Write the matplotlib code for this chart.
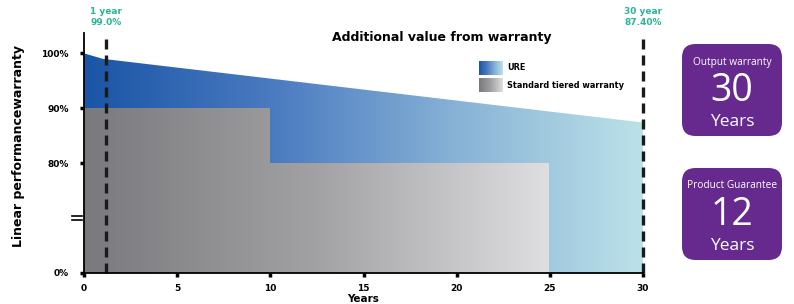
import numpy as np
import matplotlib.pyplot as plt
from matplotlib.colors import LinearSegmentedColormap
from matplotlib.patches import FancyBboxPatch

# data
years = [0, 1, 30]
ure = [100, 99.0, 87.4]
std_years = [0, 10, 10, 25, 25]
std_vals = [90, 90, 80, 80, 0]
yticks = [0, 80, 90, 100]
ytick_labels = ['0%', '80%', '90%', '100%']
xticks = [0, 5, 10, 15, 20, 25, 30]
marks = [1.2, 30]
mark_labels = ['1 year\n99.0%', '30 year\n87.40%']

teal = '#2ab49a'
purple = '#66298e'

blue_cmap = LinearSegmentedColormap.from_list(
    'ure', ['#1a55a6', '#4a7ac0', '#88b2d6', '#bce2e8'])
gray_cmap = LinearSegmentedColormap.from_list(
    'std', ['#7a7a7e', '#a2a2a4', '#dfdfe1'])


def fwd(v):
    v = np.asarray(v, float)
    return np.where(v <= 80, v / 40.0, 2 + (v - 80) / 10.0)


def inv(p):
    p = np.asarray(p, float)
    return np.where(p <= 2, p * 40.0, 80 + (p - 2) * 10.0)


fig = plt.figure(figsize=(7.94, 3.04), dpi=100)
ax = fig.add_axes([84 / 794, 1 - 273 / 304, 559 / 794, 240 / 304])
ax.set_yscale('function', functions=(fwd, inv))
ax.set_xlim(0, 30)
ax.set_ylim(0, 103.7)

# URE curve (fill with horizontal gradient)
xs = np.linspace(0, 30, 300)
ys = np.interp(xs, years, ure)
poly = ax.fill_between(xs, 0, ys, color='none', lw=0)
grad = np.linspace(0, 1, 256).reshape(1, -1)
im = ax.imshow(grad, cmap=blue_cmap, aspect='auto', extent=[0, 30, 0, 103.7],
               zorder=1)
im.set_clip_path(poly.get_paths()[0], transform=ax.transData)

# standard tiered warranty
poly2 = ax.fill_between(std_years, 0, std_vals, color='none', lw=0)
im2 = ax.imshow(grad, cmap=gray_cmap, aspect='auto', extent=[0, 25, 0, 103.7],
                zorder=2)
im2.set_clip_path(poly2.get_paths()[0], transform=ax.transData)

ax.set_xlim(0, 30)
ax.set_ylim(0, 103.7)

# dashed markers
for m, lab in zip(marks, mark_labels):
    ax.plot([m, m], [0, 103.7], color='#1a1a1a', lw=2.4, ls=(0, (3, 1.8)),
            zorder=5, clip_on=False)
    xf = (84 + m * 559 / 30) / 794
    fig.text(xf, 1 - 17 / 304, lab, ha='center', va='center', color=teal,
             fontsize=6.5, fontweight='bold', linespacing=1.15)

ax.set_yticks(yticks)
ax.set_yticklabels(ytick_labels)
ax.set_xticks(xticks)
ax.minorticks_off()
ax.tick_params(direction='out', length=3, width=2.5, labelsize=6.5)
ax.tick_params(axis='y', pad=8)
ax.tick_params(axis='x', pad=5)
for t in ax.get_xticklabels() + ax.get_yticklabels():
    t.set_fontweight('bold')
for s in ['top', 'right']:
    ax.spines[s].set_visible(False)
for s in ['left', 'bottom']:
    ax.spines[s].set_linewidth(1.3)
    ax.spines[s].set_zorder(6)

# axis break
tr = ax.get_yaxis_transform()
for yb in [38.3, 41.7]:
    ax.plot([-0.022, -0.003], [yb, yb], color='black', lw=1.2,
            transform=tr, clip_on=False)

ax.set_xlabel('Years', fontsize=7.5, fontweight='bold', labelpad=1)
ax.set_ylabel('Linear performancewarranty', fontsize=9, fontweight='bold')
ax.yaxis.set_label_coords(-0.105, 0.53)

fig.text(442 / 794, 1 - 37 / 304, 'Additional value from warranty',
         ha='center', va='center', fontsize=9, fontweight='bold')

# legend with gradient swatches
for i, (cm, lab) in enumerate([(blue_cmap, 'URE'),
                               (gray_cmap, 'Standard tiered warranty')]):
    y0 = 61 + i * 17
    lax = fig.add_axes([479 / 794, 1 - (y0 + 14) / 304, 24 / 794, 14 / 304])
    lax.imshow(grad, cmap=cm, aspect='auto')
    lax.axis('off')
    fig.text(507 / 794, 1 - (y0 + 7) / 304, lab, ha='left', va='center',
             fontsize=5.9, fontweight='bold')

# purple boxes
boxes = [('Output warranty', '30', 'Years', 44),
         ('Product Guarantee', '12', 'Years', 168)]
for top_txt, big, bottom, ytop in boxes:
    x0, w, h = 682 / 794, 100 / 794, 92 / 304
    y0 = 1 - (ytop + 92) / 304
    fig.patches.append(FancyBboxPatch(
        (x0, y0), w, h, boxstyle='round,pad=0,rounding_size=0.017',
        transform=fig.transFigure, facecolor=purple, edgecolor='none',
        mutation_aspect=794 / 304))
    cx = x0 + w / 2
    fig.text(cx, 1 - (ytop + 18) / 304, top_txt, ha='center', va='center',
             color='white', fontsize=7.3, family='Open Sans')
    fig.text(cx, 1 - (ytop + 47) / 304, big, ha='center', va='center',
             color='white', fontsize=27, family='Open Sans')
    fig.text(cx, 1 - (ytop + 78) / 304, bottom, ha='center', va='center',
             color='white', fontsize=12.5, family='Open Sans')

fig.savefig('out.png', dpi=100)
